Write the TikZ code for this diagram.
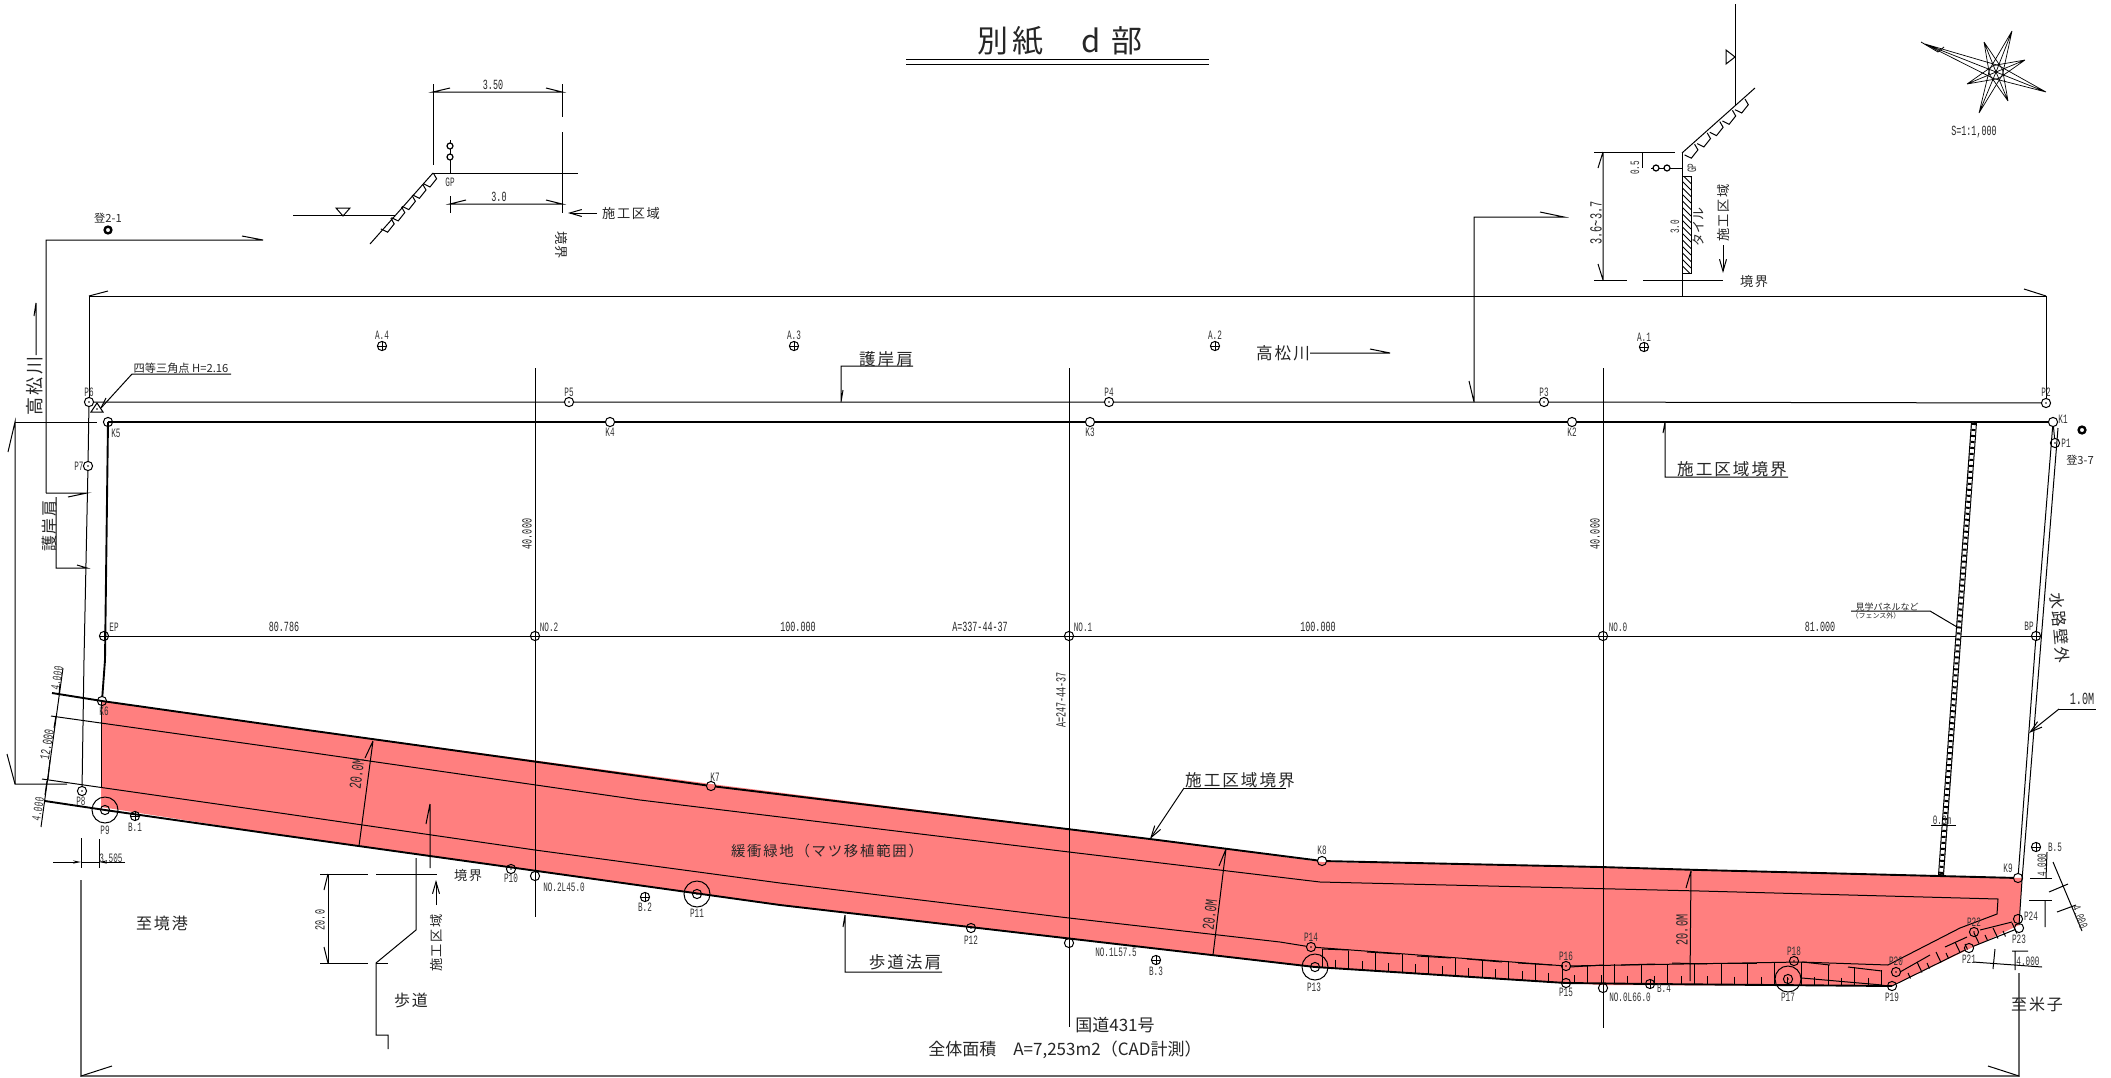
\documentclass[tikz,border=0pt]{standalone}
\usepackage{fontspec}
\usetikzlibrary{arrows.meta,calc}
\newfontfamily\jp[LetterSpace=12]{Noto Sans CJK JP}
\newfontfamily\jq{Noto Sans CJK JP}
\newfontfamily\nar[FakeStretch=0.6]{Liberation Mono}
\newcounter{lc}
\tikzset{
 x=0.5pt,y=-0.5pt,
 thin line/.style={line width=0.5pt,black},
 heavy/.style={line width=0.95pt,black},
 every node/.style={inner sep=0pt,outer sep=0pt,text=black!85},
 sa/.style={font=\nar\fontsize{6.4}{6.4}\selectfont,text=black!80},
 sb/.style={font=\nar\fontsize{7}{7}\selectfont},
 sc/.style={font=\nar\fontsize{8.5}{8.5}\selectfont},
 ja/.style={font=\jp\fontsize{8.3}{8.3}\selectfont},
 jb/.style={font=\jp\fontsize{6.6}{6.6}\selectfont},
 pt/.style={circle,draw,line width=0.5pt,minimum size=4.6pt,path picture={\fill (path picture bounding box.center) circle (0.4pt);}},
 kp/.style={circle,draw,line width=0.5pt,minimum size=4.6pt},
 cr/.style={circle,draw,line width=0.5pt,minimum size=4.6pt,path picture={\draw[line width=0.4pt] (path picture bounding box.north)--(path picture bounding box.south) (path picture bounding box.east)--(path picture bounding box.west);}},
 big/.style={circle,draw,line width=0.5pt,minimum size=13pt},
 mon/.style={circle,draw,line width=1.2pt,minimum size=3.4pt},
 barb/.style={-{Straight Barb[length=6pt,width=3.5pt]},line width=0.5pt},
 fil/.style={-{Stealth[length=4pt,width=1.6pt]},line width=0.5pt},
}
\newcommand\tx[4][sa]{\stepcounter{lc}\node[#1] (t\arabic{lc}) at (#2,#3) {#4};}
\newcommand\txr[5][sb]{\stepcounter{lc}\node[#1,rotate=#4] (t\arabic{lc}) at (#2,#3) {#5};}
\newcommand\block[2]{\draw[thin line] (#1,#2)--++(3.3,5.7)--++(-6.6,8.3)--++(-6.7,-3.3);}
\begin{document}
\begin{tikzpicture}
\useasboundingbox (0,0) rectangle (2111,1077);
\fill[white] (0,0) rectangle (2111,1077);
% pink area
\fill[fill={rgb,255:red,255;green,127;blue,127}] (101,701)--(300,729)--(711,784)--(1150,839)--(1322,862)--(1600,867)--(2022,878)--(2019,925)--(1892,986)--(1603,985)--(1566,983)--(1315,967)--(1280,963)--(780,905)--(280,835)--(101,807)--cycle;
% points
\foreach \n/\x/\y in {P6/89/402,P7/88/466,P8/82/791,P5/569/402,P4/1109/402,P3/1544/402,P2/2046/403,P1/2055/443,P10/511/869,P12/971/928,P14/1311/947,P16/1566/966,P18/1794/961,P20/1896/972,P22/1974/932,P13i/1315/967,P11i/697/894,P9i/105/810,P17i/1788/979}{\node[pt] (\n) at (\x,\y) {};}
\foreach \n/\x/\y in {K1/2053/422,K2/1572/422,K3/1090/422,K4/610/422,K5/108/422,K6/102/701,K7/711/786,K8/1322/861,K9/2018/878,P15/1566/983,P19/1892/986,P21/1969/948,P23/2019/928,P24/2018/919,S2L/535/876,S1L/1069/943,S0L/1603/988}{\node[kp] (\n) at (\x,\y) {};}
\foreach \n/\x/\y in {EP/104/636,N2/535/636,N1/1069/636,N0/1603/636,BP/2036/636,A4/382/346,A3/794/346,A2/1215/346,A1/1644/347,B1/135/816,B2/645/897,B3/1156/960,B4/1650/984,B5/2036/847}{\node[cr] (\n) at (\x,\y) {};}
\node[big] (P9) at (105,810) {};
\node[big] (P11) at (697,894) {};
\node[big] (P13) at (1315,967) {};
\node[big] (P17) at (1788,979) {};
\node[mon] (M1) at (108,230) {};
\node[mon] (M2) at (2082,430) {};
% main boundary lines
\draw[heavy] (K5.center)--(K4)--(K3)--(K2)--(K1);
\draw[thin line] (P6)--(P5)--(P4)--(P3)--(P2);
\draw[thin line] (P6)--(P7)--(84,660)--(P8);
\draw[heavy] (K5.center)--(105,660)--(K6);
\draw[heavy] (52,693)--(K6.center)--(300,729)--(K7)--(1150,839)--(K8)--(1600,867)--(1700,870)--(K9);
\draw[heavy] (45,801)--(P9i.center)--(280,835)--(780,905)--(P13i.center)--(P15.center)--(S0L.north)--(B4.center)--(P19.center);
\draw[thin line] (P19.center)--(P21)--(P23);
\draw[thin line] (P23)--(2019,925)--(2022,880)--(2058,428);
\draw[thin line] (K1)--(BP)--(K9);
\draw[thin line] (K1)--(P1);
% inner lines
\draw[thin line] (51,716)--(300,751)--(640,800)--(1069,852)--(1320,882)--(1700,891)--(1998,899)--(1997,914)--(1960,928)--(1888,965)--(1800,962)--(P16)--(P14)--(1280,942)--(1069,918)--(780,883)--(535,850)--(280,813)--(42,779);
\draw[thin line] (101,701)--(101,788);
% stations
\draw[thin line] (EP)--(N2)--(N1)--(N0)--(BP);
\foreach \t/\b/\n in {368/917/N2,368/1027/N1,368/1028/N0}{
 \draw[thin line] (\n |- 0,\t)--(\n |- 0,\b);}
% fence
\draw[line width=3pt,black] (1974,422)--(1941,875);
\draw[line width=1.9pt,white] (1974,423)--(1941,874);
\draw[line width=1.9pt,black,dash pattern=on 1pt off 2pt] (1974,423)--(1941,874);
% comb ticks, first part
\foreach \i in {0,...,9}{
 \pgfmathsetmacro\xx{1322+26.7*\i}
 \pgfmathsetmacro\yt{949+(\xx-1322)*.067}
 \pgfmathsetmacro\yb{967.5+(\xx-1322)*.062}
 \pgfmathsetmacro\xs{\xx+13.35}
 \pgfmathsetmacro\yc{\yb+.8}
 \pgfmathsetmacro\ys{\yb-8}
 \draw[thin line] (\xx,\yt)--(\xx,\yb);
 \ifnum\i<9 \draw[thin line] (\xs,\ys)--(\xs,\yc);\fi
}
\foreach \a/\b/\c/\d in {1322/949/1349/950,1367/952/1400/954,1417/956/1451/958,1467/959/1502/962,1518/963/1552/965,1570/967/1603/965,1621/965/1655/964,1672/963/1707/964,1721/963/1757/963,1802/962/1830/965,1848/967/1882/971}{
 \draw[thin line] (\a,\b)--(\c,\d);}
\foreach \i in {1,...,12}{
 \pgfmathsetmacro\xx{1561+26.7*\i}
 \pgfmathsetmacro\yt{\xx<1800 ? 965-.012*(\xx-1561) : 962+(\xx-1800)*.1}
 \pgfmathsetmacro\yb{983+(\xx-1561)*.009}
 \pgfmathsetmacro\xs{\xx-13.35}
 \pgfmathsetmacro\ys{\yb-8}
 \draw[thin line] (\xx,\yt)--(\xx,\yb);
 \draw[thin line] (\xs,\ys)--(\xs,\yb);
}
\draw[thin line] (1802,978)--(1882,985);
% comb ticks along the rising edge
\foreach \a/\b in {1917/962,1936/952,1955/942,1974/933,1993/928,2012/923}{
 \draw[thin line] (\a,\b)--++(5,10.5);}
\foreach \a/\b in {1908/973,1927/963,1946/953,1965/944,1985/935,2003/931}{
 \draw[thin line] (\a,\b)--++(2.5,5.5);}
\foreach \a/\b/\c/\d in {1900/972/1930/955,1945/947/1967/937,1980/930/2012/922}{
 \draw[thin line] (\a,\b)--(\c,\d);}
% top dimension and brackets
\coordinate (d1) at (89,296); \coordinate (d2) at (2046,296);
\draw[thin line] (P6)--(d1)--(d2)--(P2);
\draw[thin line] (d1)--(108,291) (d2)--(2024,289);
\draw[thin line] (46,493)--(46,240)--(263,240)--(242,236);
\draw[thin line] (46,493)--(87,493)--(68,497);
\draw[thin line] (56,497)--(56,568)--(87,568)--(77,565);
\draw[thin line] (15,422)--(97,422);
\draw[thin line] (8,452)--(15,422)--(15,784)--(67,784);
\draw[thin line] (7,754)--(15,784);
\draw[thin line] (36,355)--(36,303)--(34,316);
% triangulation point
\coordinate (tr) at (101,408);
\draw[thin line] (91,412)--(97,403)--(103,412)--cycle;
\fill (97,409) circle (0.4pt);
\draw[thin line] (231,374)--(132,374)--(tr);
\draw[thin line] (101,408)--(106,398);
% left slanted dims
\draw[thin line] (41,827)--(63,668);
\draw[thin line] (60,684)--(59,695);\draw[thin line] (56,716)--(54,728);\draw[thin line] (50,760)--(48,779);\draw[thin line] (47,781)--(45,795);
\draw[thin line] (81,838)--(81,868);
\draw[thin line] (99,839)--(99,868);
\draw[fil] (53,862)--(81,862);
\draw[fil] (125,862)--(99,862);
\draw[thin line] (81,862)--(99,862);
% bottom dimension
\draw[line width=0.9pt,black!60] (81,880)--(81,1076)--(2019,1076)--(2019,973);
\draw[thin line] (1988,1066)--(2019,1076);
\draw[thin line] (112,1066)--(81,1076);
% lower left section
\draw[thin line] (320,874)--(368,874) (376,874)--(437,874);
\draw[thin line] (320,963)--(368,963) (376,963)--(388,963);
\draw[thin line] (328,874)--(328,963);
\draw[thin line] (328,874)--(324,890) (328,963)--(324,947);
\draw[thin line] (416,858)--(416,930)--(376,963)--(376,1035)--(388,1035)--(388,1049);
\draw[thin line] (430,804)--(430,868) (430,804)--(426,824);
\draw[barb] (436,905)--(436,880);
% 20.0M dims
\draw[thin line] (373,741)--(359,846) (373,741)--(365,758);
\draw[thin line] (1226,849)--(1213,955) (1226,849)--(1219,866);
\draw[thin line] (1691,871)--(1690,981) (1691,871)--(1686,888);
% leaders
\draw[thin line] (845,915)--(845,972)--(942,972) (845,915)--(843,927);
\draw[barb] (1184,788)--(1150,839);
\draw[thin line] (1184,788)--(1286,788);
\draw[thin line] (841,402)--(841,366)--(913,366) (841,402)--(843,390);
\draw[thin line] (1665,422)--(1665,477)--(1788,477) (1665,422)--(1663,433);
\draw[thin line] (1474,402)--(1474,217)--(1564,217)--(1540,212) (1474,402)--(1469,381);
\draw[thin line] (1310,353)--(1390,353)--(1370,349);
\draw[thin line] (1851,611)--(1930,611)--(1957,627);
\draw[thin line] (1931,825)--(1956,825);
\draw[barb] (2059,709)--(2029,733);
\draw[thin line] (2059,709)--(2096,709);
% right dims
\draw[thin line] (2047,852)--(2046,878) (2045,900)--(2045,927);
\draw[thin line] (2030,878)--(2052,878) (2029,900)--(2052,900);
\draw[thin line] (2053,862)--(2082,931);
\draw[thin line] (2049,892)--(2068,884) (2057,912)--(2076,905);
\draw[thin line] (1973,962)--(2042,967);
\draw[thin line] (1995,949)--(1993,969) (2015,951)--(2015,970) (2012,951)--(2028,951);
% upper left section
\draw[thin line] (433,84)--(433,165) (562,84)--(562,117) (562,132)--(562,213);
\draw[thin line] (450,88)--(433,92)--(562,92)--(546,88);
\draw[thin line] (434,173)--(578,173);
\draw[thin line] (433,173)--(370,244);
\draw[thin line] (293,215)--(395,215);
\draw[thin line] (336,208)--(350,208)--(343,216)--cycle;
\foreach \i in {0,...,4}{\pgfmathsetmacro\a{433.3-10.6*\i}\pgfmathsetmacro\b{173+11.3*\i}\block{\a}{\b}}
\node[kp,minimum size=3pt,line width=.6pt] (g1) at (450,146) {};
\node[kp,minimum size=3pt,line width=.6pt] (g2) at (450,157) {};
\draw[thin line] (450,140)--(g1)--(g2)--(450,173);
\draw[thin line] (450,196)--(450,213);
\draw[thin line] (466,200)--(450,204)--(562,204)--(546,200);
\draw[barb] (597,213)--(568,213);
% upper right section
\draw[thin line] (1735,4)--(1735,105);
\draw[thin line] (1726,50)--(1726,64)--(1735,57)--cycle;
\draw[thin line] (1682,153)--(1755,88);
\draw[thin line] (1682,153)--(1682,296);
\foreach \i in {0,...,4}{\pgfmathsetmacro\a{1745-12.6*\i}\pgfmathsetmacro\b{99+11.3*\i}\block{\a}{\b}}
\draw[thin line] (1682,176) rectangle (1691,273);
\begin{scope}
\clip (1682,176) rectangle (1691,273);
\foreach \y in {168,174.5,...,270}{\draw[line width=0.4pt] (1682,\y)--(1691,\y+9);}
\end{scope}
\draw[thin line] (1594,152)--(1675,152) (1594,280)--(1627,280) (1643,280)--(1723,280);
\draw[thin line] (1603,152)--(1603,280) (1598,168)--(1603,152) (1598,264)--(1603,280);
\draw[thin line] (1642,152)--(1642,168);
\node[kp,minimum size=3pt,line width=.6pt] (g3) at (1656,168) {};
\node[kp,minimum size=3pt,line width=.6pt] (g4) at (1667,168) {};
\draw[thin line] (1651,168)--(g3)--(g4)--(1682,168);
\draw[barb] (1723,245)--(1723,273);
% star
\coordinate (sc) at (1996,72);
\foreach \tipx/\tipy in {2012/31,2025/60,2046/92,2008/101,1979/113,1967/84,1984/42,1925/44}{
 \coordinate (tp) at (\tipx,\tipy);
 \draw[line width=0.35pt] (tp)--($(sc)!3.5pt!90:(tp)$) (tp)--($(sc)!3.5pt!-90:(tp)$) (tp)--(sc);
}
\draw[line width=0.4pt] (1921,42)--(1938,52)--(1944,47);
% title
\draw[thin line] (906,59)--(1209,59) (906,64)--(1209,64);
\tx[font=\jp\fontsize{15.5}{15.5}\selectfont]{1060}{41}{別紙　d 部}
\tx[sb]{1974}{132}{S=1:1,000}
% texts
\tx[ja]{886}{359}{護岸肩}
\tx[ja]{1283}{353}{高松川}
\tx[ja]{1732}{469}{施工区域境界}
\tx[ja]{1240}{780}{施工区域境界}
\tx[ja]{905}{962}{歩道法肩}
\tx[font=\jq\fontsize{8.5}{8.5}\selectfont]{1115}{1025}{国道431号}
\tx[font=\jq\fontsize{8.5}{8.5}\selectfont]{1065}{1050}{全体面積　A=7,253m2（CAD計測）}
\tx[font=\jp\fontsize{7.2}{7.2}\selectfont]{827}{851}{緩衝緑地（マツ移植範囲）}
\tx[font=\jp\fontsize{8}{8}\selectfont]{162}{923}{至境港}
\tx[font=\jp\fontsize{8}{8}\selectfont]{2037}{1004}{至米子}
\tx[jb]{468}{876}{境界}
\tx[font=\jp\fontsize{8}{8}\selectfont]{411}{1000}{歩道}
\tx[jb]{1754}{282}{境界}
\tx[jb]{631}{213}{施工区域}
\tx[font=\jq\fontsize{5.6}{5.6}\selectfont]{181}{368}{四等三角点 H=2.16}
\tx[font=\jq\fontsize{5.6}{5.6}\selectfont]{108}{218}{登2-1}
\tx[font=\jq\fontsize{5.6}{5.6}\selectfont]{2080}{460}{登3-7}
\tx[font=\jq\fontsize{4.5}{4.5}\selectfont]{1887}{607}{見学パネルなど}
\tx[font=\jq\fontsize{3.5}{3.5}\selectfont]{1876}{616}{（フェンス外）}
\txr[font=\jp\fontsize{9}{9}\selectfont]{35}{386}{90}{高松川}
\txr[font=\jp\fontsize{8}{8}\selectfont]{49}{526}{90}{護岸肩}
\txr[jb]{561}{245}{-90}{境界}
\txr[jb]{436}{943}{90}{施工区域}
\txr[jb]{1723}{213}{90}{施工区域}
\txr[font=\jq\fontsize{6.5}{6.5}\selectfont]{1698}{227}{90}{タイル}
\txr[font=\jp\fontsize{8}{8}\selectfont]{2060}{628}{-85}{水路壁外}
\txr[sc]{1596}{223}{90}{3.6\char"007E 3.7}
\txr[sa]{1635}{168}{90}{0.5}
\txr[sa]{1675}{227}{90}{3.0}
\txr[sa]{1692}{168}{90}{GP}
\tx[sa]{450}{182}{GP}
\tx[sb]{493}{85}{3.50}
\tx[sb]{499}{197}{3.0}
\txr[sc]{357}{774}{83}{20.0M}
\txr[sc]{1210}{915}{83}{20.0M}
\txr[sc]{1682}{930}{90}{20.0M}
\txr[sb]{320}{920}{90}{20.0}
\tx[sc]{2082}{699}{1.0M}
\tx[sb]{284}{627}{80.786}
\tx[sb]{798}{627}{100.000}
\tx[sb]{980}{627}{A=337-44-37}
\tx[sb]{1318}{627}{100.000}
\tx[sb]{1820}{627}{81.000}
\txr[sb]{527}{534}{90}{40.000}
\txr[sb]{1595}{534}{90}{40.000}
\txr[sb]{1061}{700}{90}{A=247-44-37}
\tx[sa]{1942}{820}{0.3m}
\txr[sa]{57}{678}{80}{4.000}
\txr[sb]{47}{745}{80}{12.000}
\txr[sa]{38}{809}{80}{4.000}
\tx[sa]{111}{858}{3.505}
\txr[sa]{2042}{865}{90}{4.000}
\txr[sa]{2080}{917}{-68}{4.000}
\tx[sa]{2028}{961}{4.000}
% point labels
\foreach \x/\y/\s in {89/392/P6,79/466/P7,81/801/P8,105/830/P9,569/392/P5,1109/392/P4,1544/392/P3,2046/392/P2,2066/443/P1,2063/419/K1,610/432/K4,1090/432/K3,1572/432/K2,116/433/K5,104/711/K6,715/777/K7,1322/850/K8,2008/868/K9,135/827/B.1,645/907/B.2,1156/971/B.3,1664/988/B.4,2055/847/B.5,382/335/A.4,794/335/A.3,1215/335/A.2,1644/337/A.1,511/878/P10,697/913/P11,971/940/P12,1314/987/P13,1311/937/P14,1566/992/P15,1566/956/P16,1788/997/P17,1794/951/P18,1892/997/P19,1896/961/P20,1969/959/P21,1974/922/P22,2019/939/P23,2031/916/P24,564/887/NO.2L45.0,1116/952/NO.1L57.5,1630/997/NO.0L66.0,114/627/EP,549/627/NO.2,1083/627/NO.1,1618/627/NO.0,2029/626/BP}{
 \tx[sa]{\x}{\y}{\s}}
\end{tikzpicture}
\end{document}
